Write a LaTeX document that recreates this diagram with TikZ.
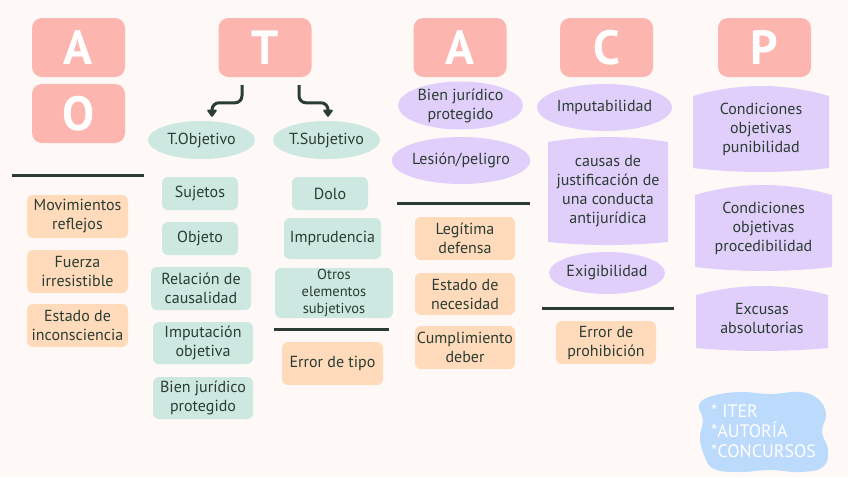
\documentclass[tikz,border=0pt]{standalone}
\usepackage{fontspec}
\setmainfont{PT Sans}
\usetikzlibrary{arrows.meta,shapes.geometric,calc}
\definecolor{bgc}{HTML}{FEF9F6}
\definecolor{pinkc}{HTML}{FDB5AF}
\definecolor{peachc}{HTML}{FFDBBC}
\definecolor{tealc}{HTML}{CDE7E1}
\definecolor{lavc}{HTML}{E1CFFB}
\definecolor{bluec}{HTML}{BCDAFB}
\definecolor{inkc}{HTML}{2B3D33}
\newcommand\bodyfs{\fontsize{16}{19}\selectfont}
\newcommand\smallfs{\fontsize{14.5}{17}\selectfont}
\newcommand\bannerfill[6]{%
  \fill[lavc] (#1,{#2+#5}) .. controls ({#1+(#3-#1)/3},{#2-#5/3}) and ({#3-(#3-#1)/3},{#2-#5/3}) .. (#3,{#2+#5})
    -- (#3,{#4-#6}) .. controls ({#3-(#3-#1)/3},{#4+#6/3}) and ({#1+(#3-#1)/3},{#4+#6/3}) .. (#1,{#4-#6}) -- cycle;}
\tikzset{
  sz/.style 2 args={minimum width=#1pt, minimum height=#2pt},
  txt/.style={align=center, text=inkc, font=\bodyfs, inner sep=0pt},
  box/.style={txt, rounded corners=6pt},
  pk/.style={box, fill=peachc},
  tl/.style={box, fill=tealc},
  title/.style={fill=pinkc, rounded corners=10pt, text=white, inner sep=0pt,
    font=\fontsize{48}{48}\selectfont\bfseries, sz={93}{59}},
  el/.style={txt, ellipse},
  sepline/.style={draw=inkc, line width=3pt},
  arr/.style={draw=inkc, line width=3pt, rounded corners=7pt,
    -{Triangle[width=11pt,length=8pt,round]}},
}
\begin{document}
\begin{tikzpicture}[x=1pt,y=-1pt]
\useasboundingbox (0,0) rectangle (848,477);
\fill[bgc] (0,0) rectangle (848,477);

% titles
\node[title] (tA) at (78.5,47.5) {A};
\node[title] (tO) at (78.5,113.5) {O};
\node[title] (tT) at (265,47.5) {T};
\node[title] (tA2) at (460,47.5) {A};
\node[title] (tC) at (606.5,47.5) {C};
\node[title] (tP) at (764.5,47.5) {P};

% column A / O
\draw[sepline] (12,175) -- (144,175);
\node[pk, sz={101}{43}] (mov) at (77.5,216.5) {Movimientos\\reflejos};
\node[pk, sz={101}{43}] (fue) at (77.5,271.5) {Fuerza\\irresistible};
\node[pk, sz={101}{43}] (est) at (77.5,325.5) {Estado de\\inconsciencia};

% column T
\node[el, fill=tealc, sz={107}{38}] (tobj) at (201.5,140) {T.Objetivo};
\node[el, fill=tealc, sz={107}{38}] (tsub) at (326.5,140) {T.Subjetivo};
\draw[arr] ([xshift=-23pt,yshift=-8pt]tT.south) |- ($(tobj.north)+(10.5pt,18pt)$) -- ($(tobj.north)+(10.5pt,4pt)$);
\draw[arr] ([xshift=34pt,yshift=-8pt]tT.south) |- ($(tsub.north)+(1.5pt,18pt)$) -- ($(tsub.north)+(1.5pt,4pt)$);

\node[tl, sz={76}{33}] (suj) at (200,193.5) {Sujetos};
\node[tl, sz={76}{33}] (obj) at (200,238.5) {Objeto};
\node[tl, sz={100}{43}] (rel) at (201,288.5) {Relación de\\causalidad};
\node[tl, sz={100}{42}] (imp) at (203,343) {Imputación\\objetiva};
\node[tl, sz={100}{42}] (bjp) at (203,398) {Bien jurídico\\protegido};

\node[tl, sz={76}{33}] (dolo) at (330,193.5) {Dolo};
\node[tl, sz={97}{41}] (impr) at (332.5,238.5) {Imprudencia};
\node[tl, sz={118}{50}, font=\smallfs] (otros) at (334,293) {Otros\\elementos\\subjetivos};
\draw[sepline] (274,329) -- (389,329);
\node[pk, sz={101}{43}] (etipo) at (332.5,363.5) {Error de tipo};

% column A (antijuridicidad)
\node[el, fill=lavc, sz={125}{45}] (bien2) at (460.5,105.5) {Bien jurídico\\protegido};
\node[el, fill=lavc, sz={132}{47}] (les) at (461,160.5) {Lesión/peligro};
\draw[sepline] (397,203) -- (530,203);
\node[pk, sz={100}{43}] (leg) at (465,238.5) {Legítima\\defensa};
\node[pk, sz={100}{42}] (nec) at (465,294) {Estado de\\necesidad};
\node[pk, sz={100}{43}] (cum) at (465,347.5) {Cumplimiento\\deber};

% column C
\node[el, fill=lavc, sz={127}{47}] (imputab) at (604.5,107.5) {Imputabilidad};
\bannerfill{548}{137}{668}{245}{5}{3}
\node[txt] (causas) at (608,191) {causas de\\justificación de\\una conducta\\antijurídica};
\node[el, fill=lavc, sz={116}{42}] (exig) at (607,273) {Exigibilidad};
\draw[sepline] (542,308) -- (674,308);
\node[pk, sz={100}{43}] (eprohib) at (606,342.5) {Error de\\prohibición};

% column P
\bannerfill{693}{86}{829}{172}{10}{4}
\node[txt] (pun) at (761,129) {Condiciones\\objetivas\\punibilidad};
\bannerfill{695}{185}{832}{271}{10}{4}
\node[txt] (proc) at (763.5,228) {Condiciones\\objetivas\\procedibilidad};
\bannerfill{696}{286}{828}{351}{9}{3}
\node[txt] (excu) at (762,318.5) {Excusas\\absolutorias};

% cloud
\fill[bluec] plot[smooth cycle, tension=0.7] coordinates {
  (712,396) (740,392) (770,394) (800,392) (818,399) (826,414) (822,432)
  (828,450) (823,467) (800,472) (770,470) (740,472) (714,469) (704,455)
  (700,437) (703,420) (699,405)};
\node[inner sep=0pt, align=left, text=white, anchor=west,
  font=\fontsize{18}{20}\selectfont] (cloud) at (711,431) {* ITER\\*AUTORÍA\\*CONCURSOS};
\end{tikzpicture}
\end{document}
